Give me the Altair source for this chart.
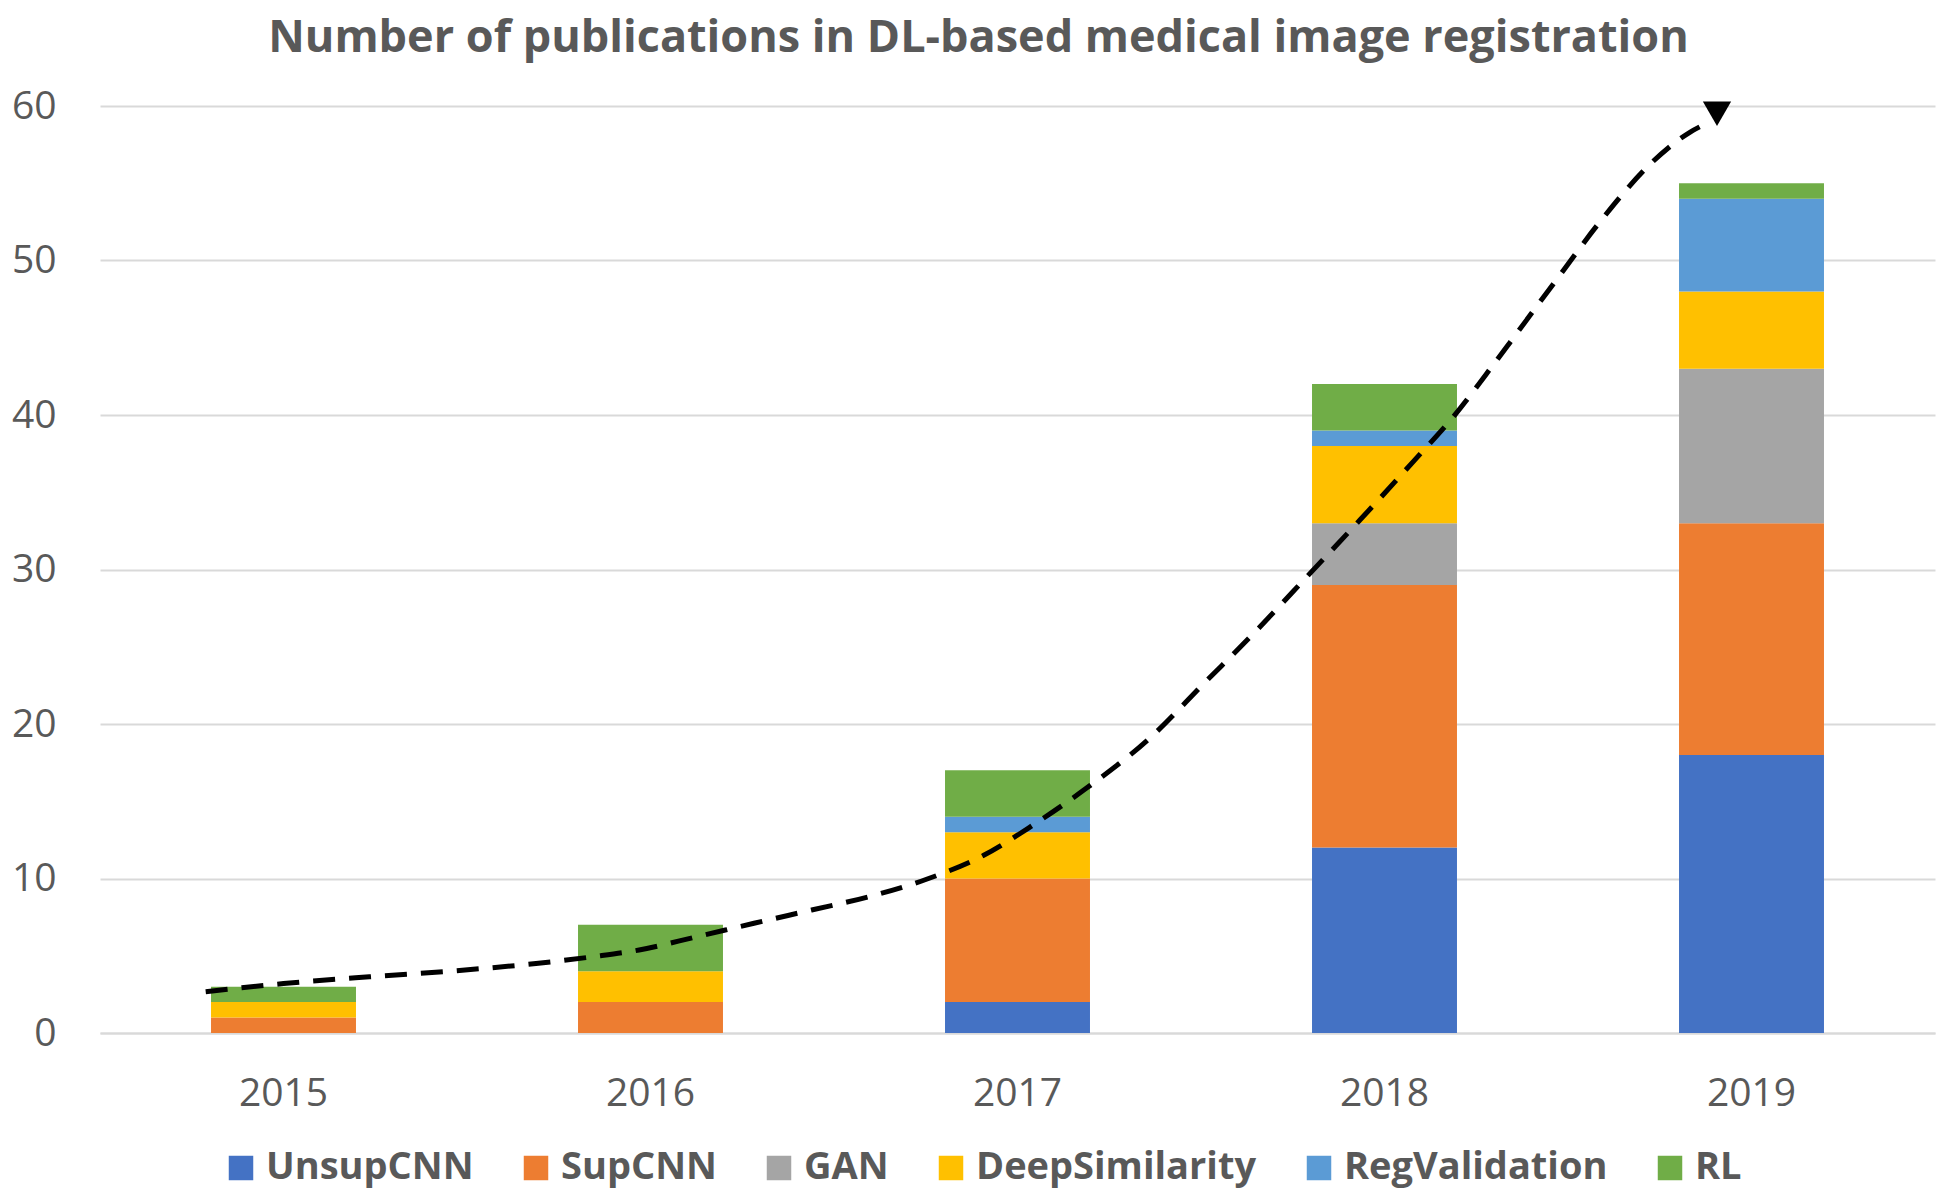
import altair as alt
import pandas as pd

years = ["2015", "2016", "2017", "2018", "2019"]
series = ["UnsupCNN", "SupCNN", "GAN", "DeepSimilarity", "RegValidation", "RL"]
colors = ["#4472C4", "#ED7D31", "#A5A5A5", "#FFC000", "#5B9BD5", "#70AD47"]

unsup_cnn = [0, 0, 2, 12, 18]
sup_cnn = [1, 2, 8, 17, 15]
gan = [0, 0, 0, 4, 10]
deep_similarity = [1, 2, 3, 5, 5]
reg_validation = [0, 0, 1, 1, 6]
rl = [1, 3, 3, 3, 1]

# hand-drawn trend curve (x in year units, y in publications)
curve_x = [2014.788, 2015.0, 2015.234, 2015.469, 2015.688, 2015.844, 2015.969,
           2016.126, 2016.282, 2016.439, 2016.595, 2016.752, 2016.908, 2017.045,
           2017.191, 2017.361, 2017.507, 2017.653, 2017.799, 2017.933, 2018.079,
           2018.188, 2018.298, 2018.342, 2018.470, 2018.587, 2018.731, 2018.832,
           2018.88]
curve_y = [2.67, 3.2, 3.64, 4.03, 4.5, 4.94, 5.37,
           6.23, 7.1, 7.96, 8.82, 9.95, 11.5, 13.5,
           15.9, 19.1, 22.6, 26.1, 29.8, 33.2, 37.0,
           39.9, 43.3, 44.7, 48.8, 52.5, 56.4, 58.3,
           58.9]
arrow_x = [2018.906]
arrow_y = [59.5]

values = [unsup_cnn, sup_cnn, gan, deep_similarity, reg_validation, rl]
rows = []
for si, (name, vals) in enumerate(zip(series, values)):
    for yr, v in zip(years, vals):
        rows.append({"year": yr, "series": name, "count": v, "idx": si})
bars_df = pd.DataFrame(rows)
curve_df = pd.DataFrame({"x": curve_x, "y": curve_y, "o": list(range(len(curve_x)))})
arrow_df = pd.DataFrame({"x": arrow_x, "y": arrow_y})

GRAY = "#595959"
FONT = "Open Sans"

y_scale = alt.Scale(domain=[0, 60])

bars = alt.Chart(bars_df).mark_bar().encode(
    x=alt.X("year:N", title=None, sort=years,
            scale=alt.Scale(paddingInner=0.605, paddingOuter=0.3025),
            axis=alt.Axis(labelAngle=0, ticks=False, domain=True, domainColor="#d9d9d9",
                          domainWidth=2, labelPadding=41, labelFontSize=39,
                          labelColor=GRAY, labelFont=FONT)),
    y=alt.Y("count:Q", title=None, stack="zero", scale=y_scale,
            axis=alt.Axis(values=[0, 10, 20, 30, 40, 50, 60], ticks=False, domain=False,
                          grid=True, gridColor="#d9d9d9", gridWidth=2, labelPadding=44,
                          labelFontSize=39, labelColor=GRAY, labelFont=FONT)),
    color=alt.Color("series:N", sort=series,
                    scale=alt.Scale(domain=series, range=colors),
                    legend=alt.Legend(title=None, orient="none", direction="horizontal",
                                      legendX=122, legendY=1043,
                                      symbolType="square", symbolSize=600,
                                      symbolStrokeWidth=0, labelFontSize=38,
                                      labelFont=FONT, labelFontWeight="bold",
                                      labelColor=GRAY, labelOffset=6,
                                      columnPadding=43, labelLimit=400)),
    order=alt.Order("idx:Q", sort="ascending"),
)

x_cont = alt.X("x:Q", scale=alt.Scale(domain=[2014.5, 2019.5], nice=False, zero=False),
               axis=None)

line = alt.Chart(curve_df).mark_line(
    color="black", strokeWidth=5, strokeDash=[22, 14], interpolate="monotone"
).encode(
    x=x_cont,
    y=alt.Y("y:Q", scale=y_scale),
    order="o:Q",
)

arrow = alt.Chart(arrow_df).mark_point(
    shape="triangle-down", filled=True, color="black", size=800, opacity=1
).encode(
    x=x_cont,
    y=alt.Y("y:Q", scale=y_scale),
)

chart = alt.layer(bars, line, arrow).resolve_scale(x="independent").properties(
    width=1835,
    height=927,
    background="white",
    autosize=alt.AutoSizeParams(type="none"),
    padding={"left": 92, "top": 98, "right": 7, "bottom": 157},
    title=alt.TitleParams(
        "Number of publications in DL-based medical image registration",
        font=FONT, fontSize=45, fontWeight="bold", color=GRAY,
        anchor="middle", dx=-39, offset=26,
    ),
).configure_view(stroke=None)

chart.save("out.html", embed_options={"renderer": "svg", "actions": False})
